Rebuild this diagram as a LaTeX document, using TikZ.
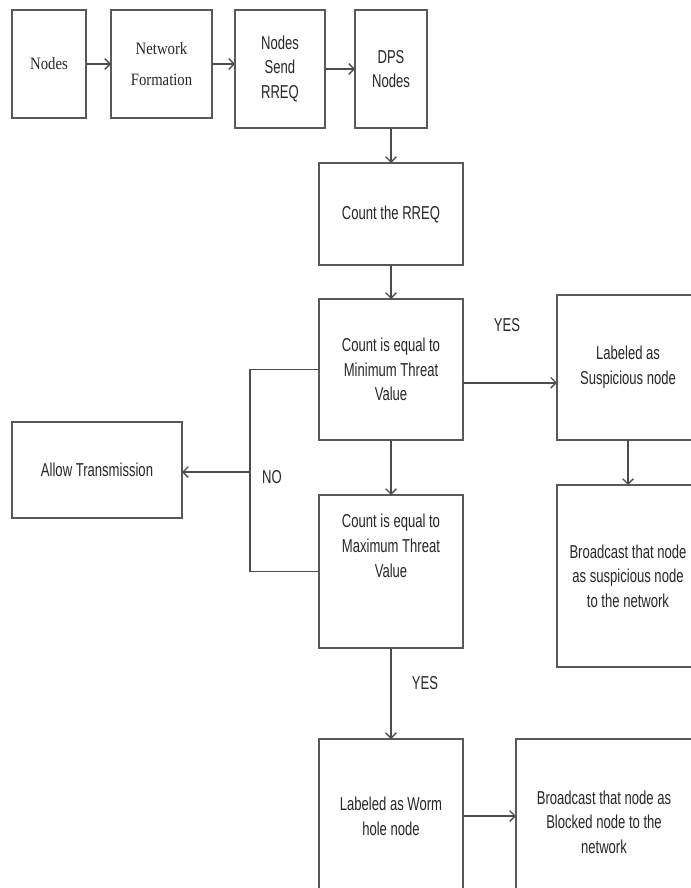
\documentclass[tikz,border=0pt]{standalone}
\usepackage{fontspec}
\setmainfont{Liberation Serif}
\newfontfamily\narrowsans[FakeStretch=0.7]{Liberation Sans}
\newfontfamily\narrowserif[FakeStretch=0.85]{Liberation Serif}
\usetikzlibrary{positioning,arrows.meta}

\begin{document}
\begin{tikzpicture}[
    x=0.75pt, y=-0.75pt,
    every node/.style={font=\narrowsans\fontsize{14}{18.5}\selectfont, text=black!85},
    box/.style={draw=black!65, line width=1.2pt, inner sep=2pt, outer sep=0pt, align=center},
    serifbox/.style={box, font=\narrowserif\fontsize{13}{23}\selectfont},
    conn/.style={draw=black!70, line width=1pt},
    flow/.style={conn, -{Straight Barb[length=4pt,width=8pt]}}
]
\useasboundingbox (0,0) rectangle (691,888);

% top row
\node[serifbox, minimum width=55.5pt, minimum height=81pt, anchor=north west] (nodes) at (12,10) {Nodes};
\node[serifbox, minimum width=75.75pt, minimum height=81pt, right=18.75pt of nodes.north east, anchor=north west] (netform) {Network\\Formation};
\node[box, minimum width=67.5pt, minimum height=88.5pt, right=17.25pt of netform.north east, anchor=north west] (send) {Nodes\\Send\\RREQ};
\node[box, minimum width=54pt, minimum height=88.5pt, right=22.5pt of send.north east, anchor=north west] (dps) {DPS\\Nodes};

% middle column
\node[box, minimum width=108pt, minimum height=76.5pt, below=26.25pt of dps] (count) {Count the RREQ};
\node[box, minimum width=108pt, minimum height=105.75pt, below=25.5pt of count] (minth) {Count is equal to\\Minimum Threat\\Value};
\node[box, minimum width=108pt, minimum height=114.75pt, below=41.25pt of minth] (maxth) {Count is equal to\\Maximum Threat\\Value\\[20pt]\mbox{}};
\node[box, minimum width=108pt, minimum height=115.5pt, below=68.25pt of maxth] (worm) {Labeled as Worm\\hole node};

% right side
\node[box, minimum width=106.5pt, minimum height=108.75pt, right=70.5pt of minth.north east, anchor=north west, yshift=3pt] (susp) {Labeled as\\Suspicious node};
\node[box, minimum width=106.5pt, minimum height=136.5pt, below=33.75pt of susp] (bcsusp) {Broadcast that node\\as suspicious  node\\to the network};
\node[box, minimum width=132pt, minimum height=124.5pt, right=39.75pt of worm.north east, anchor=north west] (block) {Broadcast that node as\\Blocked node to the\\network};

% left side
\node[box, minimum width=127.5pt, minimum height=72pt, anchor=north west] (allow) at (12,422) {Allow Transmission};

% labels
\node (yes1) at (507,325) {YES};
\node (no) at (272,477) {NO};
\node (yes2) at (425,683) {YES};

% connectors
\draw[flow] (nodes) -- (netform);
\draw[flow] (netform) -- (netform -| send.west);
\draw[flow] (send) -- (dps);
\draw[flow] (dps) -- (count);
\draw[flow] (count) -- (minth);
\draw[flow] ([yshift=-10pt]minth.east) -- ([yshift=-10pt]minth.east -| susp.west);
\draw[flow] (susp) -- (bcsusp);
\draw[flow] (minth) -- (maxth);
\draw[flow] (maxth) -- (worm);
\draw[flow] (worm.east) -- (worm.east -| block.west);

\coordinate (split) at (250,472);
\draw[conn] (minth.west) -| (split) |- (maxth.west);
\draw[flow] (split) -- (split -| allow.east);

\end{tikzpicture}
\end{document}
